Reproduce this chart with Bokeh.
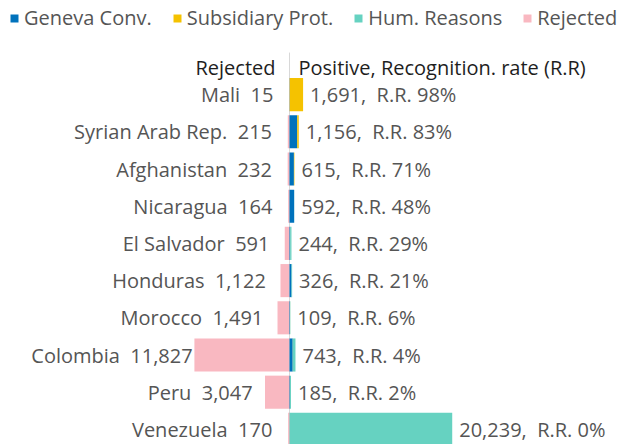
from bokeh.plotting import figure
from bokeh.models import ColumnDataSource, Range1d, Legend, LegendItem
from bokeh.core.properties import value
from bokeh.embed import file_html
from bokeh.resources import INLINE

countries = ["Mali", "Syrian Arab Rep.", "Afghanistan", "Nicaragua", "El Salvador",
             "Honduras", "Morocco", "Colombia", "Peru", "Venezuela"]
rejected = [15, 215, 232, 164, 591, 1122, 1491, 11827, 3047, 170]
positive = [1691, 1156, 615, 592, 244, 326, 109, 743, 185, 20239]
geneva = [25, 960, 550, 580, 80, 250, 60, 400, 60, 15]
subsidiary = [1666, 190, 60, 0, 4, 0, 9, 10, 5, 4]
hum_reasons = [0, 6, 5, 12, 160, 76, 40, 333, 120, 20220]
recognition_rate = [98, 83, 71, 48, 29, 21, 6, 4, 2, 0]

FONT = "Open Sans"
FS = "20px"
C_GEN = "#0072bc"
C_SUB = "#f5c200"
C_HUM = "#66d2c1"
C_REJ = "#f9b8c1"
SP = "\u00a0\u00a0"

ypos = [-i for i in range(len(countries))]
src = ColumnDataSource(dict(
    y=ypos,
    geneva=geneva, subsidiary=subsidiary, hum=hum_reasons,
    rej_left=[-r for r in rejected], zero=[0] * len(rejected),
    lab_x=[-0.85 * r for r in rejected],
    left_lab=[f"{c}{SP}{r:,}" for c, r in zip(countries, rejected)],
    pos=positive,
    right_lab=[f"{p:,},{SP}R.R. {rr}%" for p, rr in zip(positive, recognition_rate)],
))

p = figure(width=619, height=444, output_backend="svg", toolbar_location=None,
           x_range=Range1d(-35945, 41045), y_range=Range1d(-9.406, 2.53),
           x_axis_location=None, y_axis_location=None, min_border=0)
p.grid.visible = False
p.outline_line_color = None

BAR_H = 0.89
# zero line
p.segment(x0=[0], y0=[1.13], x1=[0], y1=[-9.6], line_color="#d8d8d8", line_width=1)

r_rej = p.hbar(y="y", left="rej_left", right="zero", height=BAR_H, source=src,
               fill_color=C_REJ, line_color=None)
stack = p.hbar_stack(["geneva", "subsidiary", "hum"], y="y", height=BAR_H, source=src,
                     color=[C_GEN, C_SUB, C_HUM], line_color=None)

p.text(x="lab_x", y="y", text="left_lab", source=src, x_offset=-16,
       text_align="right", text_baseline="middle", text_font=value(FONT),
       text_font_size=FS, text_color="#555555")
p.text(x="pos", y="y", text="right_lab", source=src, x_offset=7,
       text_align="left", text_baseline="middle", text_font=value(FONT),
       text_font_size=FS, text_color="#555555")

# column headers
p.text(x=[0], y=[0.74], text=["Rejected"], x_offset=-14, text_align="right",
       text_baseline="middle", text_font=value(FONT), text_font_size=FS,
       text_color="#1e1e1e")
p.text(x=[0], y=[0.74], text=["Positive, Recognition. rate (R.R)"], x_offset=9,
       text_align="left", text_baseline="middle", text_font=value(FONT),
       text_font_size=FS, text_color="#1e1e1e")

legend = Legend(items=[
    LegendItem(label="Geneva Conv.", renderers=[stack[0]]),
    LegendItem(label="Subsidiary Prot.", renderers=[stack[1]]),
    LegendItem(label="Hum. Reasons", renderers=[stack[2]]),
    LegendItem(label="Rejected", renderers=[r_rej]),
], orientation="horizontal", location=(9, 413), margin=0, padding=0,
    spacing=20, label_standoff=5, glyph_width=10, glyph_height=10,
    label_height=18, label_text_font=FONT, label_text_font_size=FS,
    label_text_color="#555555", border_line_color=None, background_fill_alpha=0)
p.add_layout(legend, "center")

open("out.html", "w").write(file_html(p, INLINE))
